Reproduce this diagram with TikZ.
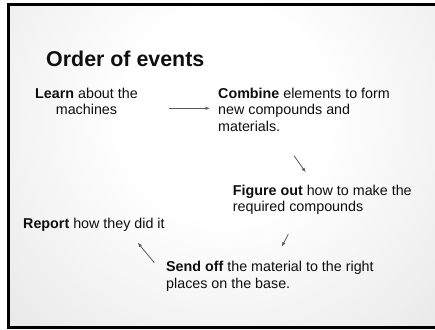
\documentclass[tikz,border=0pt]{standalone}
\usepackage{fontspec}
\setmainfont{Liberation Sans}
\usetikzlibrary{arrows.meta}
\definecolor{bggray}{RGB}{196,196,196}
\definecolor{txt}{RGB}{15,15,15}
\definecolor{arr}{RGB}{90,90,90}
\pgfdeclareradialshading{slidebg}{\pgfpoint{0bp}{0bp}}{color(0bp)=(white); color(8bp)=(white); color(50bp)=(bggray)}
\begin{document}
\begin{tikzpicture}[x=1pt,y=-1pt,
  body/.style={font=\fontsize{14.3}{16.3}\selectfont, text=txt, inner sep=0pt, anchor=north west, align=left},
  titlestyle/.style={font=\fontsize{21.4}{25}\selectfont\bfseries, text=txt, inner sep=0pt, anchor=base west},
  conn/.style={draw=arr, line width=0.8pt, -{Latex[length=4.5pt,width=3.5pt]}}]
\useasboundingbox (0,0) rectangle (435,329);
\fill[white] (0,0) rectangle (435,329);
\begin{scope}
\clip (8.5,4.5) rectangle (435,327.5);
\shade[shading=slidebg] (225,115) circle (320pt);
\end{scope}
\draw[black, line width=3pt] (440,4.5) -- (8.5,4.5) -- (8.5,327.5) -- (440,327.5);

\node[titlestyle] (title) at (46,66) {Order of events};
\node[body, align=center] (learn) at (35,87.7) {\textbf{Learn} about the\\machines};
\node[body] (combine) at (218,88) {\textbf{Combine} elements to form\\new compounds and\\materials.};
\node[body] (figure) at (232.7,184.7) {\textbf{Figure out} how to make the\\required compounds};
\node[body, anchor=base west] (report) at (23,228) {\textbf{Report} how they did it};
\node[body] (send) at (166,261.4) {\textbf{Send off} the material to the right\\places on the base.};

\coordinate (a1s) at (169,108.3);
\coordinate (a1e) at (210,108.3);
\coordinate (a2s) at (294,155.7);
\coordinate (a2e) at (305.7,172.3);
\coordinate (a3s) at (288.3,234.3);
\coordinate (a3e) at (281.7,246.7);
\coordinate (a4s) at (154.3,262.7);
\coordinate (a4e) at (137.7,242.7);
\draw[conn] (a1s) -- (a1e);
\draw[conn] (a2s) -- (a2e);
\draw[conn] (a3s) -- (a3e);
\draw[conn] (a4s) -- (a4e);
\end{tikzpicture}
\end{document}
